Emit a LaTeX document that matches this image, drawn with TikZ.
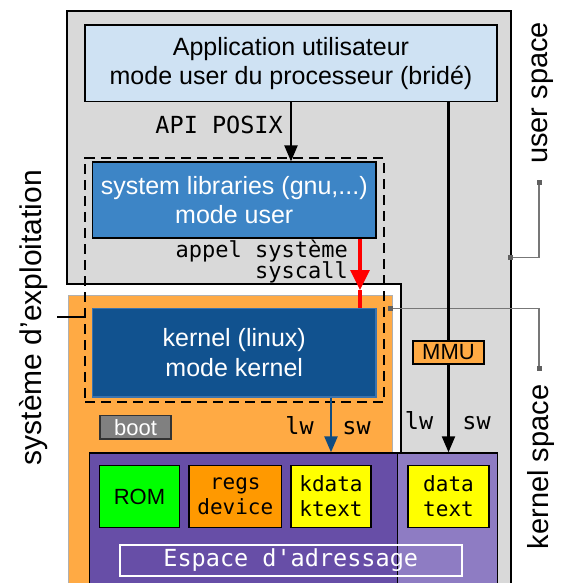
\documentclass[tikz,border=0pt]{standalone}
\usepackage{fontspec}
\setmainfont{Liberation Sans}
\setmonofont{DejaVu Sans Mono}
\usetikzlibrary{arrows.meta}
\definecolor{grayfill}{HTML}{D9D9D9}
\definecolor{appblue}{HTML}{CFE2F3}
\definecolor{libblue}{HTML}{3D85C6}
\definecolor{kernblue}{HTML}{11528F}
\definecolor{kernborder}{HTML}{3C73AD}
\definecolor{orangebg}{HTML}{FFAA44}
\definecolor{orangeborder}{HTML}{B0B0B0}
\definecolor{regsorange}{HTML}{FF9900}
\definecolor{purpledark}{HTML}{674EA7}
\definecolor{purplelight}{HTML}{8E7CC3}
\definecolor{romgreen}{HTML}{00FF00}
\definecolor{yel}{HTML}{FFFF00}
\definecolor{bootgray}{HTML}{808080}
\definecolor{bracketgray}{HTML}{777777}
\definecolor{squaregray}{HTML}{606060}
\definecolor{arrowblue}{HTML}{0F4C81}
\definecolor{arrowred}{HTML}{FF0000}
\tikzset{
  box/.style={draw=black, line width=1.2pt, inner sep=0pt, align=center},
  bigsans/.style={font=\fontsize{25}{29.5}\selectfont},
  midsans/.style={font=\fontsize{22}{26}\selectfont},
  smallmono/.style={font=\ttfamily\fontsize{21}{25}\selectfont},
  labelmono/.style={font=\ttfamily\fontsize{23.5}{21}\selectfont, inner sep=0pt},
  sidelabel/.style={font=\fontsize{29}{30}\selectfont, inner sep=0pt, rotate=90, anchor=base},
  memcell/.style={box, minimum height=61.6pt, smallmono},
  dashbox/.style={draw=black, line width=2.4pt, dash pattern=on 10pt off 6pt, inner sep=0pt},
  bracket/.style={draw=bracketgray, line width=1.4pt},
  sq/.style={fill=squaregray, minimum size=5pt, inner sep=0pt},
  blackarrow/.style={draw=black, line width=2.2pt, -{Triangle[length=16pt,width=13pt]}},
  bluearrow/.style={draw=arrowblue, line width=2.5pt, -{Triangle[length=16pt,width=13pt]}},
  redarrow/.style={draw=arrowred, line width=3.2pt, -{Triangle[length=20pt,width=19pt]}},
}
\begin{document}
\begin{tikzpicture}[x=1pt,y=-1pt]
\useasboundingbox (0,0) rectangle (565,583);
\clip (0,0) rectangle (565,583);
% user space area (L-shaped)
\filldraw[fill=grayfill, draw=black, line width=1.3pt]
  (67,11) -- (511,11) -- (511,600) -- (401,600) -- (401,284) -- (67,284) -- cycle;
% kernel space area
\filldraw[fill=orangebg, draw=orangeborder, line width=1pt] (68,295) rectangle (392.5,600);
% memory areas
\node[box, fill=purpledark, minimum width=308.2pt, minimum height=150pt, anchor=north west] (kmem) at (88.6,452.3) {};
\node[box, fill=purplelight, minimum width=100.2pt, minimum height=150pt, anchor=north west] (umem) at (396.8,452.3) {};

% boxes
\node[box, fill=appblue, minimum width=412pt, minimum height=76.7pt, bigsans] (app) at (291,63.4) {Application utilisateur\\mode user du processeur (bridé)};
\node[box, fill=libblue, text=white, minimum width=283.5pt, minimum height=76pt, bigsans] (lib) at (234.25,200) {system libraries (gnu,...)\\mode user};
\node[box, draw=kernborder, fill=kernblue, text=white, minimum width=283.5pt, minimum height=88.7pt, bigsans] (kernel) at (234.25,352.7) {kernel (linux)\\mode kernel};
\node[box, fill=bootgray, text=white, draw=black!80, minimum width=71pt, minimum height=23.3pt, midsans] (boot) at (135.5,427.4) {boot};

\node[memcell, fill=romgreen, minimum width=80.3pt, font=\fontsize{22}{26}\selectfont] (rom) at (139.5,496.5) {ROM};
\node[memcell, fill=regsorange, minimum width=92.6pt] (regs) at (235.3,496.5) {regs\\device};
\node[memcell, fill=yel, minimum width=80pt] (kdata) at (331,496.5) {kdata\\ktext};
\node[memcell, fill=yel, minimum width=81pt] (data) at (448.5,496.5) {data\\text};
\node[box, draw=white, line width=2pt, minimum width=342.5pt, minimum height=31pt, text=white, font=\ttfamily\fontsize{23.5}{25}\selectfont] (espace) at (290.75,560.5) {Espace d'adressage};

% operating system dashed frame
\node[dashbox, minimum width=299pt, minimum height=243.7pt] (os) at (234.5,279.85) {};
\coordinate (oslab) at (57,316.7);
\draw[black, line width=2.4pt] (oslab) -- (oslab -| os.west);

% brackets
\coordinate (ustart) at (510.7,257.7);
\coordinate (uend) at (539,182);
\coordinate (kstart) at (390.7,308.7);
\coordinate (kend) at (539,368);
\draw[bracket] (ustart) -| (uend);
\draw[bracket] (kstart) -| (kend);
\node[sq] at (ustart) {};
\node[sq] at (uend) {};
\node[sq] at (kstart) {};
\node[sq] at (kend) {};

% arrows
\draw[blackarrow] (app.south -| 291,0) -- (lib.north -| 291,0);
\coordinate (redtip) at (360,290);
\draw[redarrow] (lib.south -| redtip) -- (redtip);
\draw[draw=arrowred, line width=3.2pt] (redtip) -- (kernel.north -| redtip);
\draw[bluearrow] (kernel.south -| kdata) -- (kmem.north -| kdata);
\draw[blackarrow] (app.south -| data) -- (umem.north -| data);
\node[box, fill=orangebg, minimum width=71pt, minimum height=23pt, midsans] (mmu) at (448.5,352.5) {MMU};

% labels
\node[labelmono, anchor=base east] at (283,133) {API POSIX};
\node[labelmono, anchor=base east, font=\ttfamily\fontsize{22}{21}\selectfont] at (348,257) {appel système};
\node[labelmono, anchor=base east, font=\ttfamily\fontsize{22}{21}\selectfont] at (348,278) {syscall};
\node[labelmono, anchor=base] at (299.5,434) {lw};
\node[labelmono, anchor=base] at (356.5,434) {sw};
\node[labelmono, anchor=base] at (419,429) {lw};
\node[labelmono, anchor=base] at (476.5,429) {sw};

\node[sidelabel] at (547,93) {user space};
\node[sidelabel] at (548,467) {kernel space};
\node[sidelabel, font=\fontsize{30}{32}\selectfont] at (41,317.5) {système d'exploitation};
\end{tikzpicture}
\end{document}
